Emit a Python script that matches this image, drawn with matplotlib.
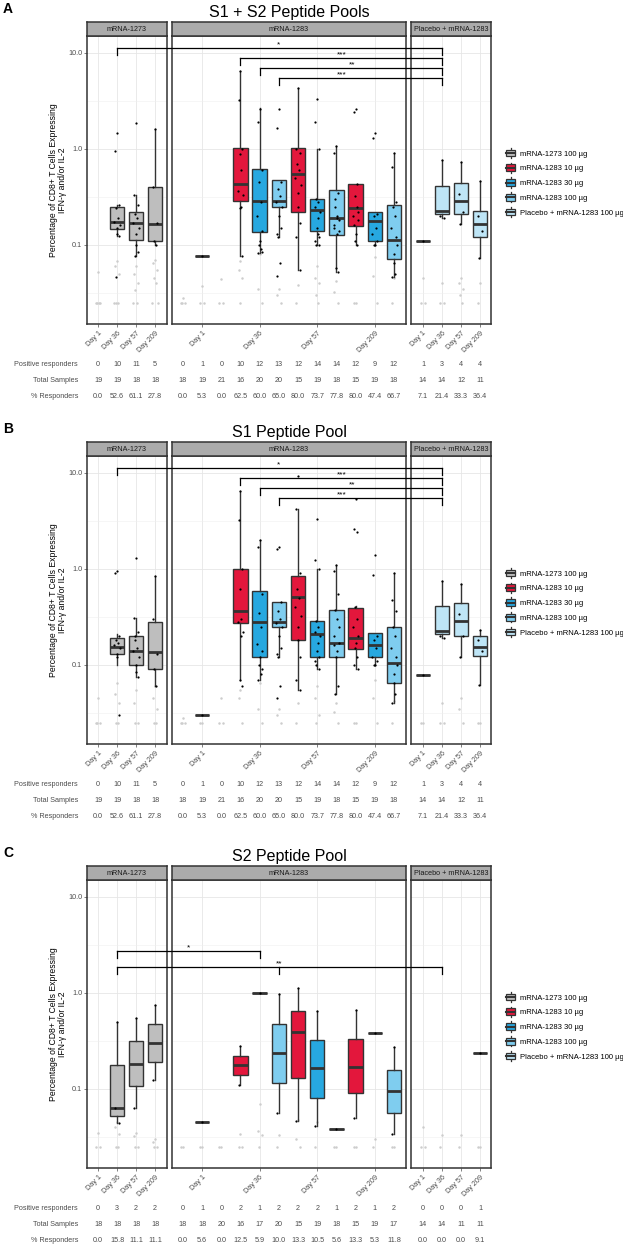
import numpy as np
import matplotlib
matplotlib.use("Agg")
import matplotlib.pyplot as plt
from matplotlib.lines import Line2D
from matplotlib.patches import Patch, Rectangle
from matplotlib.legend_handler import HandlerBase
from matplotlib.ticker import FixedLocator, NullFormatter
from matplotlib.transforms import blended_transform_factory

plt.rcParams['font.family'] = ['Liberation Sans', 'DejaVu Sans']

W, H = 623, 1245

DAYS = ["Day 1", "Day 36", "Day 57", "Day 209"]
STRIPS = ["mRNA-1273", "mRNA-1283", "Placebo + mRNA-1283"]
LEGEND_LABELS = ["mRNA-1273 100 µg", "mRNA-1283 10 µg", "mRNA-1283 30 µg",
                 "mRNA-1283 100 µg", "Placebo + mRNA-1283 100 µg"]
ROW_LABELS = ["Positive responders", "Total Samples", "% Responders"]

# box stats: (whisker low, q1, median, q3, whisker high), None = no box
# ---- A: S1 + S2 peptide pools
A_L_BOX = [None, (0.125, 0.147, 0.174, 0.249, 0.26), (0.077, 0.113, 0.17, 0.22, 0.33),
           (0.10, 0.11, 0.166, 0.40, 1.6)]
A_L_PTS = [[], [1.45, 0.95, 0.26, 0.24, 0.19, 0.175, 0.16, 0.15, 0.13, 0.125, 0.046],
           [1.85, 0.33, 0.26, 0.21, 0.19, 0.17, 0.15, 0.13, 0.1, 0.085, 0.077],
           [1.6, 0.40, 0.17, 0.11, 0.10]]
A_L_GRAY = [[0.052, 0.025, 0.025, 0.025, 0.025], [0.068, 0.06, 0.05, 0.025, 0.025, 0.025],
            [0.06, 0.05, 0.04, 0.034, 0.025, 0.025], [0.07, 0.065, 0.055, 0.045, 0.04, 0.025, 0.025]]
A_M_BOX = [None, (0.077, 0.077, 0.077, 0.077, 0.077), None,
           (0.077, 0.29, 0.43, 1.02, 6.5), (0.082, 0.137, 0.29, 0.62, 2.67), (0.12, 0.25, 0.29, 0.47, 0.47),
           (0.055, 0.22, 0.55, 1.02, 4.3), (0.10, 0.14, 0.23, 0.30, 1.0), (0.052, 0.127, 0.19, 0.37, 1.08),
           (0.10, 0.158, 0.24, 0.43, 0.43), (0.10, 0.11, 0.178, 0.22, 0.22), (0.046, 0.071, 0.113, 0.26, 0.9)]
A_M_PTS = [[], [0.077], [],
           [6.5, 3.2, 1.0, 0.88, 0.6, 0.36, 0.33, 0.25, 0.24, 0.077],
           [2.6, 1.9, 0.6, 0.45, 0.28, 0.2, 0.14, 0.11, 0.1, 0.09, 0.082, 0.085],
           [2.6, 1.65, 0.45, 0.38, 0.32, 0.28, 0.25, 0.2, 0.12, 0.065, 0.048, 0.15, 0.13],
           [4.3, 1.0, 0.9, 0.7, 0.6, 0.5, 0.42, 0.35, 0.25, 0.17, 0.12, 0.055],
           [3.3, 1.9, 1.0, 0.3, 0.28, 0.25, 0.22, 0.19, 0.15, 0.12, 0.1, 0.1, 0.11, 0.13],
           [1.08, 0.9, 0.35, 0.3, 0.2, 0.16, 0.14, 0.13, 0.058, 0.052, 0.25, 0.18, 0.15, 0.19],
           [2.6, 2.4, 0.43, 0.32, 0.25, 0.2, 0.18, 0.13, 0.11, 0.1, 0.16, 0.22],
           [1.45, 1.3, 0.21, 0.2, 0.15, 0.13, 0.11, 0.1, 0.1],
           [0.9, 0.65, 0.28, 0.25, 0.2, 0.15, 0.1, 0.08, 0.065, 0.05, 0.046, 0.12]]
A_M_GRAY = [[0.028, 0.025, 0.025, 0.025], [0.037, 0.025, 0.025], [0.044, 0.025, 0.025],
            [0.068, 0.055, 0.045, 0.025], [0.08, 0.035, 0.025], [0.035, 0.03, 0.025],
            [0.038, 0.025], [0.06, 0.045, 0.04, 0.03, 0.025], [0.042, 0.032, 0.025],
            [0.025, 0.025], [0.075, 0.047, 0.025], [0.045, 0.025]]
A_R_BOX = [(0.11, 0.11, 0.11, 0.11, 0.11), (0.19, 0.21, 0.226, 0.41, 0.77),
           (0.165, 0.21, 0.29, 0.44, 0.73), (0.073, 0.12, 0.165, 0.226, 0.46)]
A_R_PTS = [[0.11], [0.77, 0.2, 0.19], [0.73, 0.34, 0.22, 0.165], [0.46, 0.2, 0.14, 0.073]]
A_R_GRAY = [[0.045, 0.025, 0.025], [0.04, 0.025, 0.025], [0.045, 0.04, 0.035, 0.03, 0.025], [0.04, 0.025]]
A_POS = ["0", "10", "11", "5", "0", "1", "0", "10", "12", "13", "12", "14", "14", "12", "9", "12", "1", "3", "4", "4"]
A_TOT = ["19", "19", "18", "18", "18", "19", "21", "16", "20", "20", "15", "19", "18", "15", "19", "18", "14", "14", "12", "11"]
A_PCT = ["0.0", "52.6", "61.1", "27.8", "0.0", "5.3", "0.0", "62.5", "60.0", "65.0", "80.0", "73.7",
         "77.8", "80.0", "47.4", "66.7", "7.1", "21.4", "33.3", "36.4"]
A_BRACKETS = [(11.3, [("L", 2), ("R", 2)], "*", ("M", 6.0)),
              (8.9, [("M", 4), ("R", 2)], "***", ("M", 9.3)),
              (7.0, [("M", 5), ("R", 2)], "**", ("M", 9.8)),
              (5.5, [("M", 6), ("R", 2)], "***", ("M", 9.3))]

# ---- B: S1 peptide pool
B_L_BOX = [None, (0.10, 0.13, 0.155, 0.19, 0.21), (0.075, 0.10, 0.14, 0.20, 0.31),
           (0.06, 0.09, 0.135, 0.28, 0.85)]
B_L_PTS = [[], [0.95, 0.9, 0.2, 0.18, 0.17, 0.16, 0.15, 0.13, 0.12, 0.03],
           [1.3, 0.31, 0.22, 0.18, 0.15, 0.14, 0.12, 0.1, 0.085, 0.075, 0.2],
           [0.85, 0.3, 0.13, 0.09, 0.06]]
B_L_GRAY = [[0.045, 0.025, 0.025, 0.025], [0.065, 0.05, 0.04, 0.025, 0.025],
            [0.055, 0.04, 0.025, 0.025], [0.06, 0.045, 0.035, 0.025, 0.025]]
B_M_BOX = [None, (0.03, 0.03, 0.03, 0.03, 0.03), None,
           (0.07, 0.27, 0.36, 1.0, 6.5), (0.07, 0.12, 0.28, 0.59, 2.0), (0.12, 0.25, 0.28, 0.45, 0.45),
           (0.055, 0.18, 0.51, 0.85, 4.2), (0.09, 0.12, 0.21, 0.29, 1.0), (0.05, 0.12, 0.17, 0.37, 1.1),
           (0.09, 0.145, 0.19, 0.39, 0.41), (0.10, 0.12, 0.16, 0.215, 0.215), (0.04, 0.065, 0.105, 0.25, 0.91)]
B_M_PTS = [[], [0.03], [],
           [6.5, 3.2, 1.0, 0.62, 0.3, 0.28, 0.22, 0.2, 0.07, 0.06],
           [2.0, 1.7, 0.55, 0.35, 0.25, 0.165, 0.14, 0.12, 0.1, 0.08, 0.07, 0.09],
           [1.7, 1.6, 0.45, 0.36, 0.3, 0.27, 0.25, 0.2, 0.12, 0.06, 0.045, 0.15, 0.13],
           [9.3, 4.2, 0.9, 0.62, 0.5, 0.4, 0.32, 0.25, 0.18, 0.12, 0.07, 0.055],
           [3.3, 1.24, 1.0, 0.29, 0.25, 0.22, 0.2, 0.17, 0.14, 0.12, 0.1, 0.09, 0.11],
           [1.1, 0.95, 0.55, 0.37, 0.3, 0.2, 0.17, 0.14, 0.12, 0.06, 0.05, 0.25, 0.16],
           [5.4, 2.6, 2.4, 0.4, 0.3, 0.25, 0.2, 0.17, 0.15, 0.12, 0.1, 0.09],
           [1.4, 0.87, 0.2, 0.18, 0.15, 0.12, 0.11, 0.1, 0.1],
           [0.91, 0.48, 0.36, 0.25, 0.2, 0.15, 0.1, 0.08, 0.065, 0.05, 0.04, 0.12]]
B_M_GRAY = [[0.028, 0.025, 0.025, 0.025], [0.025, 0.025], [0.045, 0.025, 0.025],
            [0.055, 0.045, 0.025], [0.065, 0.035, 0.025], [0.035, 0.03, 0.025],
            [0.04, 0.025], [0.06, 0.045, 0.03, 0.025], [0.04, 0.032, 0.025],
            [0.025, 0.025], [0.07, 0.045, 0.025], [0.042, 0.025]]
B_R_BOX = [(0.078, 0.078, 0.078, 0.078, 0.078), (0.19, 0.21, 0.226, 0.41, 0.75),
           (0.12, 0.20, 0.29, 0.44, 0.70), (0.062, 0.125, 0.155, 0.20, 0.23)]
B_R_PTS = [[0.078], [0.75, 0.2, 0.19], [0.70, 0.34, 0.2, 0.12], [0.23, 0.18, 0.14, 0.062]]
B_R_GRAY = [[0.025, 0.025], [0.04, 0.025, 0.025], [0.045, 0.035, 0.025], [0.025, 0.025]]
B_POS = A_POS
B_TOT = A_TOT
B_PCT = A_PCT
B_BRACKETS = A_BRACKETS

# ---- C: S2 peptide pool
C_L_BOX = [None, (0.044, 0.052, 0.064, 0.178, 0.50), (0.063, 0.108, 0.18, 0.316, 0.55),
           (0.124, 0.19, 0.30, 0.48, 0.75)]
C_L_PTS = [[], [0.5, 0.064, 0.044], [0.55, 0.063], [0.75, 0.124]]
C_L_GRAY = [[0.035, 0.025, 0.025], [0.045, 0.04, 0.034, 0.025, 0.025],
            [0.035, 0.032, 0.025, 0.025], [0.03, 0.028, 0.025, 0.025]]
C_M_BOX = [None, (0.045, 0.045, 0.045, 0.045, 0.045), None,
           (0.11, 0.14, 0.178, 0.22, 0.28), (1.0, 1.0, 1.0, 1.0, 1.0), (0.056, 0.115, 0.237, 0.48, 0.98),
           (0.046, 0.13, 0.39, 0.65, 1.12), (0.041, 0.081, 0.166, 0.32, 0.65), (0.038, 0.038, 0.038, 0.038, 0.038),
           (0.05, 0.091, 0.17, 0.33, 0.66), (0.38, 0.38, 0.38, 0.38, 0.38), (0.034, 0.056, 0.095, 0.158, 0.27)]
C_M_PTS = [[], [0.045], [], [0.28, 0.11], [1.0], [0.98, 0.056], [1.12, 0.046], [0.65, 0.041],
           [0.038], [0.66, 0.05], [0.38], [0.27, 0.034]]
C_M_GRAY = [[0.025, 0.025], [0.025, 0.025], [0.025, 0.025], [0.034, 0.025, 0.025],
            [0.07, 0.036, 0.033, 0.025], [0.033, 0.025], [0.047, 0.03, 0.025], [0.045, 0.025],
            [0.025, 0.025], [0.025, 0.025], [0.03, 0.025], [0.025, 0.025]]
C_R_BOX = [None, None, None, (0.237, 0.237, 0.237, 0.237, 0.237)]
C_R_PTS = [[], [], [], [0.237]]
C_R_GRAY = [[0.04, 0.025, 0.025], [0.033, 0.025], [0.033, 0.025], [0.025, 0.025]]
C_POS = ["0", "3", "2", "2", "0", "1", "0", "2", "1", "2", "2", "2", "1", "2", "1", "2", "0", "0", "0", "1"]
C_TOT = ["18", "18", "18", "18", "18", "18", "20", "16", "17", "20", "15", "19", "18", "15", "19", "17", "14", "14", "11", "11"]
C_PCT = ["0.0", "15.8", "11.1", "11.1", "0.0", "5.6", "0.0", "12.5", "5.9", "10.0", "13.3", "10.5",
         "5.6", "13.3", "5.3", "11.8", "0.0", "0.0", "0.0", "9.1"]
C_BRACKETS = [(2.74, [("L", 2), ("M", 5)], "*", ("M", 1.3)),
              (1.87, [("L", 2), ("M", 6), ("R", 2)], "**", ("M", 6.0))]

GREY = "#BEBEBE"
RED = "#E3173C"
BLUE = "#27A8E0"
LBLUE = "#7FCDEF"
PLAC = "#BEE5F6"
EDGE = "#333333"
TXT = "#4D4D4D"
L_COLORS = [GREY] * 4
M_COLORS = [RED, BLUE, LBLUE] * 4
R_COLORS = [PLAC] * 4

JIT = np.array([0.0, -0.1, 0.1, -0.05, 0.05, -0.14, 0.14, 0.02, -0.02, 0.08, -0.08, 0.12, -0.12, 0.03])

# panel pixel extents (x0, x1) and x limits
PANEL_X = {"L": (87, 167, 0.42, 4.63), "M": (172, 406, 0.43, 12.63), "R": (411, 491, 0.37, 4.58)}
TICKS = {"L": [1, 2, 3, 4], "M": [2, 5, 8, 11], "R": [1, 2, 3, 4]}


def px_rect(x0, y0, x1, y1):
    return [x0 / W, 1 - y1 / H, (x1 - x0) / W, (y1 - y0) / H]


class BoxKey(HandlerBase):
    def create_artists(self, legend, orig_handle, xdescent, ydescent, width, height, fontsize, trans):
        fc = orig_handle.get_facecolor()
        x0, y0 = -xdescent, -ydescent
        bw = width * 0.9
        bx = x0 + (width - bw) / 2
        wh = Line2D([x0 + width / 2] * 2, [y0 - height * 0.2, y0 + height * 1.2], color=EDGE, lw=0.9, transform=trans)
        rect = Rectangle((bx, y0 + height * 0.05), bw, height * 0.9, fc=fc, ec=EDGE, lw=0.9, transform=trans)
        med = Line2D([bx, bx + bw], [y0 + height / 2] * 2, color=EDGE, lw=1.5, transform=trans)
        return [wh, rect, med]


def draw_panel(ax, boxes, pts, gray, colors):
    pos = np.arange(1, len(boxes) + 1)
    for i, vals in enumerate(gray):
        off = JIT[np.arange(len(vals)) % len(JIT)]
        ax.plot(pos[i] + off, vals, 'o', ms=1.8, color='#CDCDCD', mec='none', zorder=1.5)
    stats, spos, scol = [], [], []
    for i, b in enumerate(boxes):
        if b is None:
            continue
        stats.append(dict(whislo=b[0], q1=b[1], med=b[2], q3=b[3], whishi=b[4], fliers=[]))
        spos.append(pos[i])
        scol.append(colors[i])
    if stats:
        art = ax.bxp(stats, positions=spos, widths=0.75, patch_artist=True, showcaps=False,
                     showfliers=False, zorder=2,
                     boxprops=dict(edgecolor=EDGE, linewidth=1.0),
                     whiskerprops=dict(color=EDGE, linewidth=1.0),
                     medianprops=dict(color=EDGE, linewidth=2.0, solid_capstyle='butt'))
        for patch, c in zip(art['boxes'], scol):
            patch.set_facecolor(c)
    for i, vals in enumerate(pts):
        off = JIT[np.arange(len(vals)) % len(JIT)]
        ax.plot(pos[i] + off, vals, 'o', ms=1.6, color='black', mec='none', zorder=3)


fig = plt.figure(figsize=(W / 100, H / 100), dpi=100)

sections = [
    ("A", "S1 + S2 Peptide Pools", 0,
     {"L": (A_L_BOX, A_L_PTS, A_L_GRAY), "M": (A_M_BOX, A_M_PTS, A_M_GRAY), "R": (A_R_BOX, A_R_PTS, A_R_GRAY)},
     (A_POS, A_TOT, A_PCT), A_BRACKETS),
    ("B", "S1 Peptide Pool", 420,
     {"L": (B_L_BOX, B_L_PTS, B_L_GRAY), "M": (B_M_BOX, B_M_PTS, B_M_GRAY), "R": (B_R_BOX, B_R_PTS, B_R_GRAY)},
     (B_POS, B_TOT, B_PCT), B_BRACKETS),
    ("C", "S2 Peptide Pool", 844,
     {"L": (C_L_BOX, C_L_PTS, C_L_GRAY), "M": (C_M_BOX, C_M_PTS, C_M_GRAY), "R": (C_R_BOX, C_R_PTS, C_R_GRAY)},
     (C_POS, C_TOT, C_PCT), C_BRACKETS),
]
panel_colors = {"L": L_COLORS, "M": M_COLORS, "R": R_COLORS}

for letter, title, dy, pdata, table, brackets in sections:
    axes = {}
    for k, strip in zip(["L", "M", "R"], STRIPS):
        x0, x1, xl0, xl1 = PANEL_X[k]
        ax = fig.add_axes(px_rect(x0, 36 + dy, x1, 324 + dy))
        boxes, pts, gray = pdata[k]
        draw_panel(ax, boxes, pts, gray, panel_colors[k])
        ax.set_yscale('log')
        ax.set_ylim(0.015, 15)
        ax.set_xlim(xl0, xl1)
        ax.yaxis.set_major_locator(FixedLocator([0.1, 1, 10]))
        ax.yaxis.set_minor_locator(FixedLocator([0.0316, 0.316, 3.16]))
        ax.yaxis.set_minor_formatter(NullFormatter())
        ax.set_xticks(TICKS[k])
        ax.set_xticklabels([DAYS[0], DAYS[1], DAYS[2], DAYS[3]], rotation=45, ha='right',
                           va='top', rotation_mode='anchor', fontsize=5.2, color=TXT)
        ax.tick_params(axis='x', length=2, width=0.5, color=TXT, pad=2)
        ax.tick_params(axis='y', which='minor', length=0)
        if k == "L":
            ax.set_yticklabels(["0.1", "1.0", "10.0"], fontsize=5.2, color=TXT)
            ax.tick_params(axis='y', which='major', length=2, width=0.5, color=TXT, pad=1.5)
        else:
            ax.tick_params(axis='y', which='major', length=0, labelleft=False)
        ax.grid(which='major', color='#E6E6E6', lw=0.6)
        ax.grid(which='minor', axis='y', color='#EFEFEF', lw=0.4)
        ax.set_axisbelow(True)
        for s in ax.spines.values():
            s.set_color(EDGE)
            s.set_linewidth(1.1)
        # facet strip
        sax = fig.add_axes(px_rect(x0, 22 + dy, x1, 36 + dy))
        sax.set_facecolor('#ABABAB')
        sax.set_xticks([])
        sax.set_yticks([])
        for s in sax.spines.values():
            s.set_color(EDGE)
            s.set_linewidth(1.1)
        sax.text(0.5, 0.45, strip, transform=sax.transAxes, ha='center', va='center', fontsize=5.2, color='#1A1A1A')
        axes[k] = ax

    # table under the panels
    cols = [("L", 4), ("M", 12), ("R", 4)]
    for r, (rowlab, vals) in enumerate(zip(ROW_LABELS, table)):
        yrow = 1 - (364 + 16.5 * r + dy) / H
        fig.text(78 / W, yrow, rowlab, ha='right', va='center', fontsize=5.2, color=TXT)
        idx = 0
        for k, n in cols:
            tr = blended_transform_factory(axes[k].transData, fig.transFigure)
            for j in range(n):
                axes[k].text(j + 1, yrow, vals[idx], transform=tr, ha='center', va='center',
                             fontsize=5.2, color=TXT, clip_on=False)
                idx += 1

    fig.text(289 / W, 1 - (13 + dy) / H, title, ha='center', va='center', fontsize=11.5)
    fig.text(3 / W, 1 - (9 + dy) / H, letter, ha='left', va='center', fontsize=10, fontweight='bold')
    fig.text(58 / W, 1 - (180 + dy) / H, "Percentage of CD8+ T Cells Expressing\nIFN-γ and/or IL-2",
             rotation=90, ha='center', va='center', fontsize=6.2, multialignment='center', linespacing=1.1)

    # significance brackets across panels
    inv = fig.transFigure.inverted()
    for yval, legs, lab, labpos in brackets:
        ydisp = axes["M"].transData.transform((1, yval))[1]
        xs = [axes[k].transData.transform((x, yval))[0] for k, x in legs]
        yf = inv.transform((0, ydisp))[1]
        xf = [inv.transform((x, 0))[0] for x in xs]
        fig.add_artist(Line2D([min(xf), max(xf)], [yf, yf], transform=fig.transFigure, color='black', lw=0.9))
        for x in xf:
            fig.add_artist(Line2D([x, x], [yf, yf - 7 / H], transform=fig.transFigure, color='black', lw=0.9))
        lx = inv.transform((axes[labpos[0]].transData.transform((labpos[1], yval))[0], 0))[0]
        fig.text(lx, yf + 1 / H, lab, ha='center', va='baseline', fontsize=6)

    handles = [Patch(facecolor=c) for c in [GREY, RED, BLUE, LBLUE, PLAC]]
    fig.legend(handles, LEGEND_LABELS, loc='center left', bbox_to_anchor=(506 / W, 1 - (183 + dy) / H),
               frameon=False, fontsize=5.5, handler_map={Patch: BoxKey()}, handlelength=1.2,
               handleheight=1.1, handletextpad=0.6, labelspacing=0.85, borderpad=0, borderaxespad=0)

fig.savefig("out.png", dpi=100)
